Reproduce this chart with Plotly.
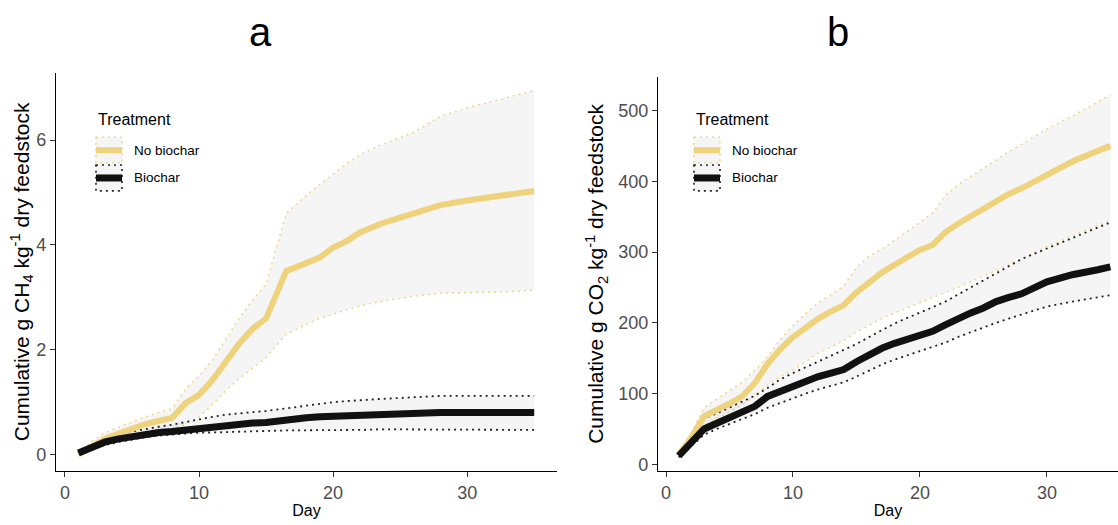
import plotly.graph_objects as go

# ---------------- data: panel a (CH4) ----------------
days_a = [1, 2, 3, 4, 5, 6, 7, 8, 9, 10, 11, 12, 13, 14, 15, 16.5, 18, 19, 20, 21, 22, 23.5, 25, 26, 28, 30, 32.5, 35]
nb_mean_a = [0, 0.15, 0.30, 0.40, 0.50, 0.58, 0.64, 0.70, 0.98, 1.14, 1.42, 1.78, 2.12, 2.40, 2.60, 3.50, 3.66, 3.76, 3.95, 4.07, 4.24, 4.40, 4.52, 4.60, 4.76, 4.85, 4.94, 5.03]
nb_upper_a = [0.02, 0.25, 0.42, 0.52, 0.62, 0.72, 0.80, 0.88, 1.25, 1.50, 1.80, 2.20, 2.60, 2.95, 3.25, 4.60, 4.95, 5.15, 5.35, 5.55, 5.72, 5.90, 6.05, 6.15, 6.45, 6.62, 6.78, 6.95]
nb_lower_a = [0, 0.10, 0.20, 0.28, 0.34, 0.40, 0.44, 0.48, 0.58, 0.72, 0.95, 1.22, 1.45, 1.65, 1.85, 2.30, 2.48, 2.60, 2.68, 2.76, 2.84, 2.92, 2.98, 3.02, 3.08, 3.09, 3.10, 3.14]
bc_mean_a = [0.03, 0.14, 0.24, 0.30, 0.35, 0.39, 0.42, 0.44, 0.47, 0.50, 0.53, 0.56, 0.58, 0.60, 0.61, 0.67, 0.70, 0.72, 0.73, 0.75, 0.76, 0.77, 0.78, 0.79, 0.80, 0.80, 0.80, 0.80]
bc_upper_a = [0.04, 0.18, 0.30, 0.38, 0.44, 0.49, 0.53, 0.57, 0.62, 0.68, 0.72, 0.76, 0.79, 0.81, 0.83, 0.88, 0.94, 0.97, 1.00, 1.02, 1.04, 1.06, 1.08, 1.09, 1.12, 1.12, 1.12, 1.12]
bc_lower_a = [0.02, 0.10, 0.18, 0.24, 0.29, 0.33, 0.36, 0.38, 0.40, 0.42, 0.42, 0.43, 0.44, 0.45, 0.45, 0.46, 0.46, 0.47, 0.47, 0.47, 0.47, 0.48, 0.48, 0.48, 0.48, 0.47, 0.47, 0.47]

# ---------------- data: panel b (CO2) ----------------
days_b = [1, 2, 3, 4, 5, 6, 7, 8, 9, 10, 11, 12, 13, 14, 15, 16, 17, 18, 19, 20, 21, 22, 23, 24, 25, 26, 27, 28, 30, 32, 34, 35]
nb_mean_b = [14, 38, 68, 76, 86, 96, 115, 142, 163, 180, 194, 206, 216, 225, 243, 258, 271, 282, 292, 303, 310, 328, 340, 351, 362, 373, 382, 390, 410, 428, 443, 450]
nb_upper_b = [15, 45, 80, 92, 103, 116, 133, 152, 176, 196, 213, 228, 240, 252, 278, 294, 304, 316, 329, 342, 355, 380, 395, 407, 418, 430, 442, 452, 474, 492, 512, 522]
nb_lower_b = [12, 32, 55, 64, 74, 84, 97, 112, 124, 133, 145, 157, 166, 175, 187, 197, 206, 214, 221, 228, 235, 243, 250, 258, 266, 274, 282, 290, 308, 323, 338, 345]
bc_mean_b = [12, 32, 50, 58, 66, 74, 82, 96, 103, 110, 118, 124, 129, 134, 145, 155, 164, 171, 177, 182, 188, 197, 206, 214, 221, 230, 236, 241, 258, 268, 275, 279]
bc_upper_b = [14, 40, 65, 72, 80, 88, 97, 108, 120, 129, 137, 145, 153, 161, 170, 180, 190, 199, 207, 214, 222, 230, 240, 250, 260, 270, 280, 290, 305, 320, 334, 342]
bc_lower_b = [10, 26, 42, 50, 57, 64, 71, 80, 87, 94, 100, 106, 111, 116, 124, 133, 141, 148, 154, 160, 166, 172, 180, 187, 194, 200, 206, 212, 223, 230, 236, 239]

treatments = ["No biochar", "Biochar"]
panel_titles = ["a", "b"]
x_ticks = [0, 10, 20, 30]
y_ticks_a = [0, 2, 4, 6]
y_ticks_b = [0, 100, 200, 300, 400, 500]

YELLOW = "#EFD27C"
YELLOW_DOT = "#F0D68A"
BLACK = "#111111"
BLACK_DOT = "#222222"
FILL = "rgba(185,185,185,0.15)"
FONT = "Liberation Sans, Arial, Helvetica, sans-serif"

fig = go.Figure()


def add_panel(xa, ya, days, nb, bc):
    for (m, up, lo), dotcol, dw in [(nb, YELLOW_DOT, 1.5), (bc, BLACK_DOT, 1.8)]:
        fig.add_trace(go.Scatter(x=days, y=lo, mode="lines", xaxis=xa, yaxis=ya,
                                 line=dict(color=dotcol, width=dw, dash="2px,4px"),
                                 showlegend=False, hoverinfo="skip"))
        fig.add_trace(go.Scatter(x=days, y=up, mode="lines", xaxis=xa, yaxis=ya,
                                 line=dict(color=dotcol, width=dw, dash="2px,4px"),
                                 fill="tonexty", fillcolor=FILL,
                                 showlegend=False, hoverinfo="skip"))
    for m, col, name, w in [(nb[0], YELLOW, treatments[0], 6), (bc[0], BLACK, treatments[1], 7)]:
        fig.add_trace(go.Scatter(x=days, y=m, mode="lines", xaxis=xa, yaxis=ya, name=name,
                                 line=dict(color=col, width=w), showlegend=False))


add_panel("x", "y", days_a, (nb_mean_a, nb_upper_a, nb_lower_a), (bc_mean_a, bc_upper_a, bc_lower_a))
add_panel("x2", "y2", days_b, (nb_mean_b, nb_upper_b, nb_lower_b), (bc_mean_b, bc_upper_b, bc_lower_b))

W, H = 1118, 525


def px(x):
    return x / W


def py(y):
    return (H - y) / H


axis_common = dict(showline=True, linecolor="black", linewidth=1.3, ticks="outside",
                   ticklen=5, tickwidth=1, tickcolor="#333333", showgrid=False, zeroline=False,
                   tickfont=dict(family=FONT, size=18, color="#4D4D4D"))

fig.update_layout(
    width=W, height=H, autosize=False,
    margin=dict(l=0, r=0, t=0, b=0),
    plot_bgcolor="white", paper_bgcolor="white",
    showlegend=False,
    xaxis=dict(domain=[px(56), px(557)], range=[-0.67, 36.7], tickvals=x_ticks,
               anchor="y", title=dict(text="Day", font=dict(family=FONT, size=16, color="black"), standoff=2),
               **axis_common),
    yaxis=dict(domain=[py(474), py(73)], range=[-0.32, 7.29], tickvals=y_ticks_a, anchor="x",
               title=dict(text="Cumulative g CH<sub>4</sub> kg<sup>-1</sup> dry feedstock",
                          font=dict(family=FONT, size=21, color="black"), standoff=0),
               **axis_common),
    xaxis2=dict(domain=[px(658), 1.0], range=[-0.63, 35.6], tickvals=x_ticks,
                anchor="y2", title=dict(text="Day", font=dict(family=FONT, size=16, color="black"), standoff=2),
                **axis_common),
    yaxis2=dict(domain=[py(474), py(77)], range=[-9.8, 548], tickvals=y_ticks_b, anchor="x2",
                title=dict(text="Cumulative g CO<sub>2</sub> kg<sup>-1</sup> dry feedstock",
                           font=dict(family=FONT, size=21, color="black"), standoff=8),
                **axis_common),
)

# panel titles
for t, xc in zip(panel_titles, [260, 838]):
    fig.add_annotation(text=t, xref="paper", yref="paper", x=px(xc), y=py(32),
                       showarrow=False, font=dict(family=FONT, size=40, color="black"),
                       xanchor="center", yanchor="middle")

# legends (one per panel)
shapes = []
for x0 in [96, 694]:
    fig.add_annotation(text="Treatment", xref="paper", yref="paper", x=px(x0), y=py(120),
                       showarrow=False, font=dict(family=FONT, size=16, color="black"),
                       xanchor="left", yanchor="middle")
    for i, (name, col, bcol, w) in enumerate([(treatments[0], YELLOW, YELLOW_DOT, 6), (treatments[1], BLACK, BLACK_DOT, 7)]):
        yc = 151 + 28 * i
        shapes.append(dict(type="rect", xref="paper", yref="paper",
                           x0=px(x0), x1=px(x0 + 26), y0=py(yc - 13), y1=py(yc + 13),
                           fillcolor=FILL, line=dict(color=bcol, width=1.6, dash="2px,4px"), layer="above"))
        shapes.append(dict(type="line", xref="paper", yref="paper",
                           x0=px(x0), x1=px(x0 + 26), y0=py(yc), y1=py(yc),
                           line=dict(color=col, width=w), layer="above"))
        fig.add_annotation(text=name, xref="paper", yref="paper", x=px(x0 + 36), y=py(yc),
                           showarrow=False, font=dict(family=FONT, size=13.5, color="black"),
                           xanchor="left", yanchor="middle")
fig.update_layout(shapes=shapes)

fig.write_html("out.html")
